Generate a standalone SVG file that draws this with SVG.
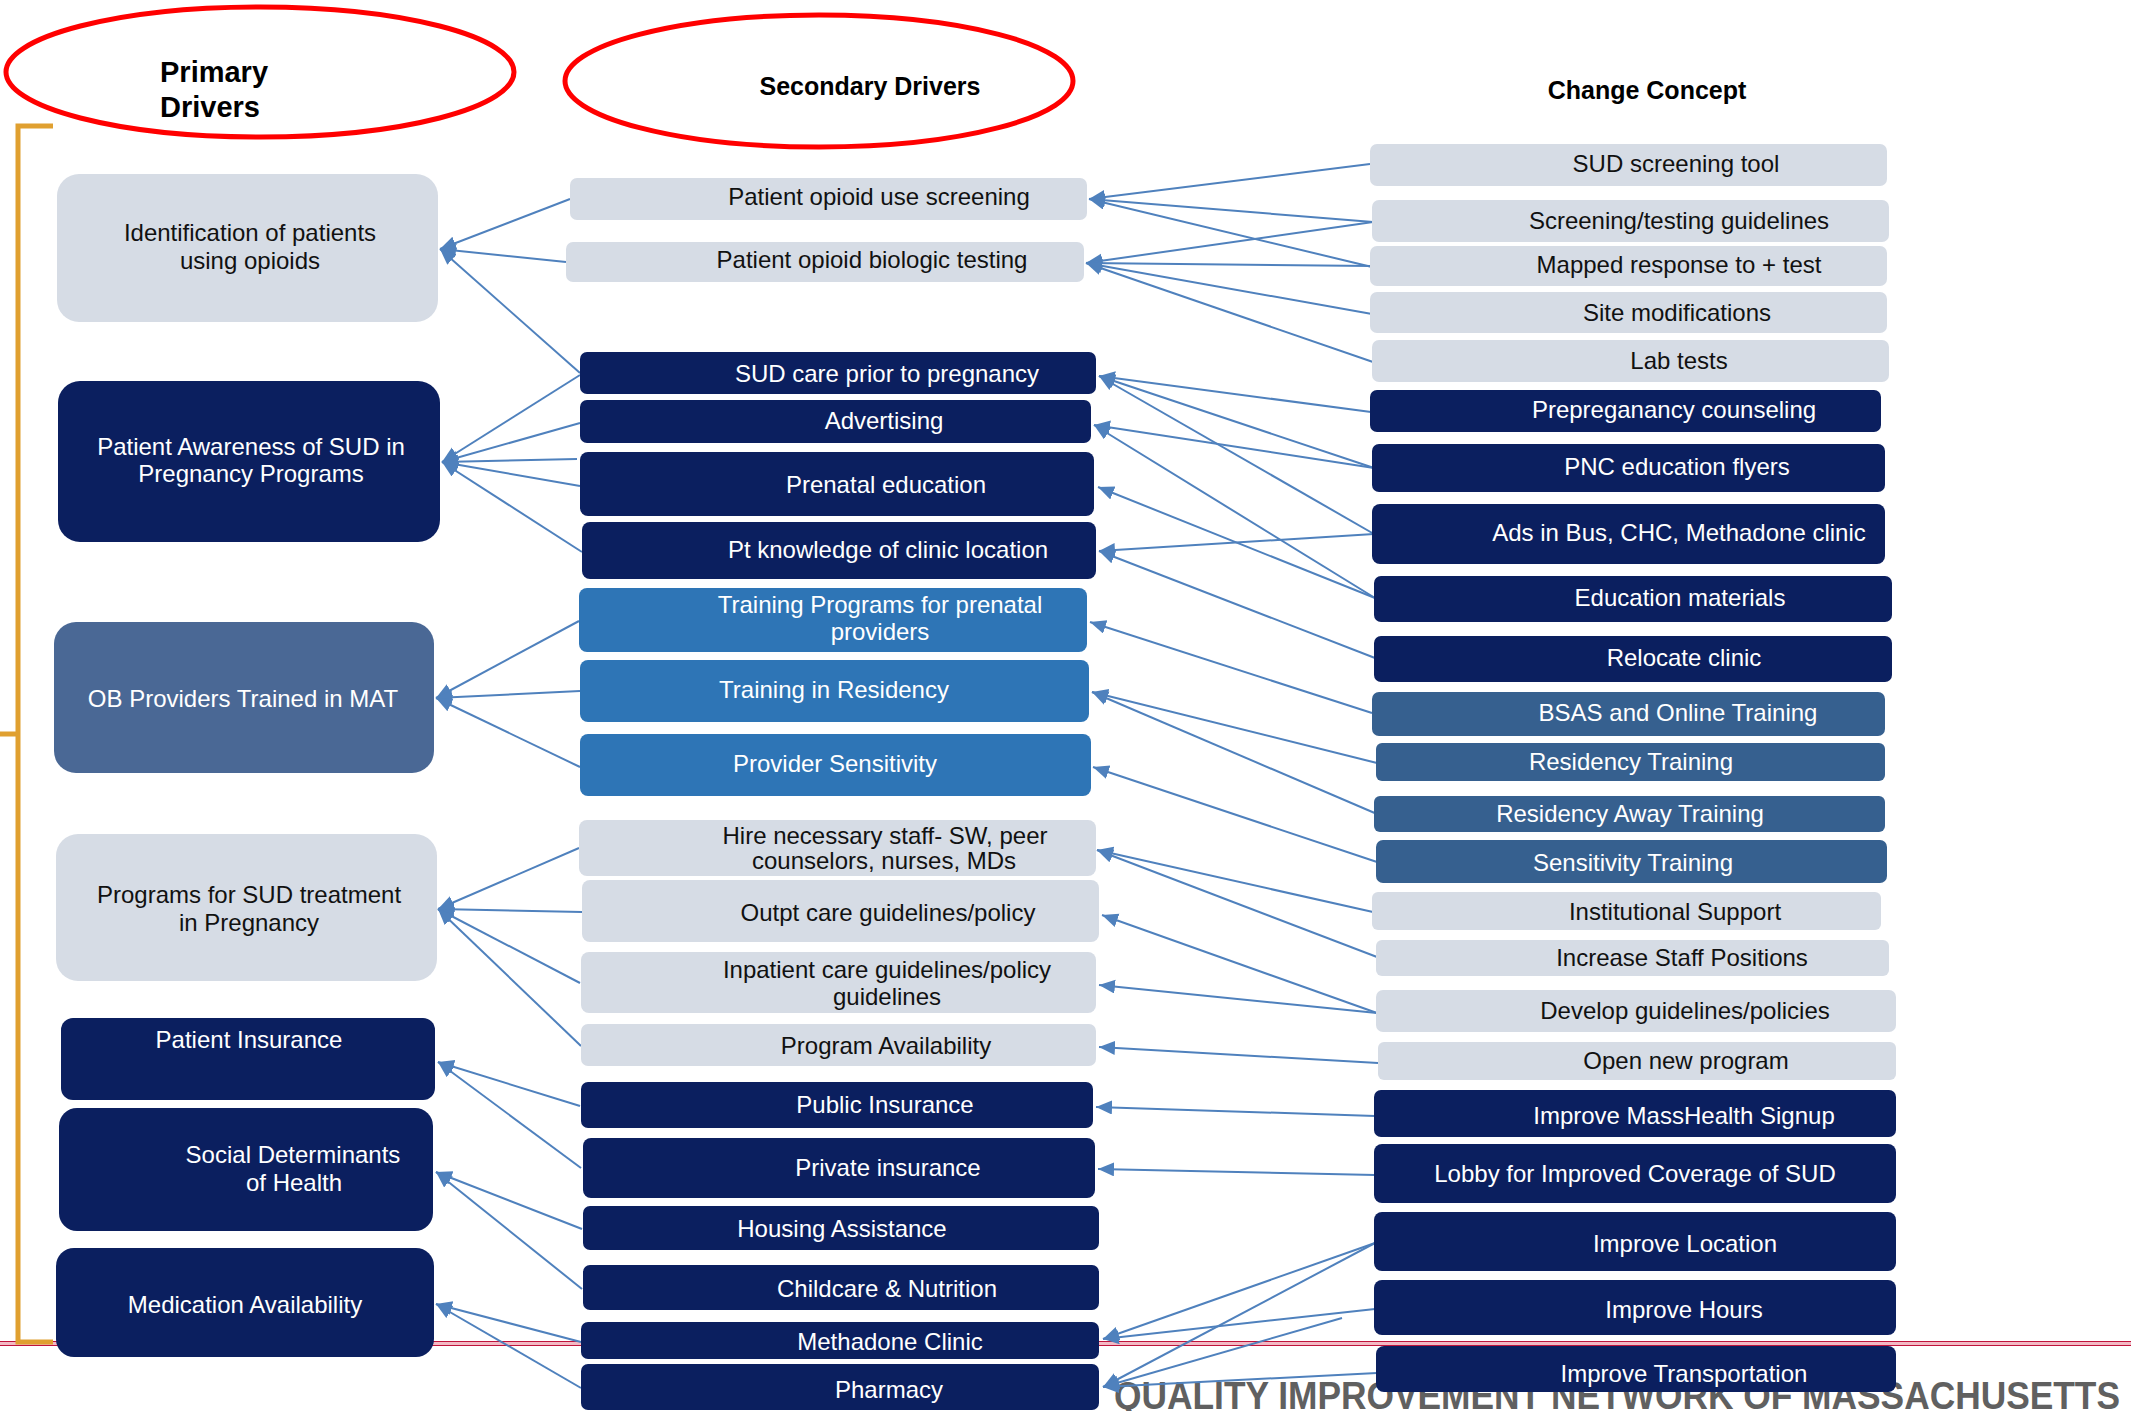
<svg xmlns="http://www.w3.org/2000/svg" width="2131" height="1411" viewBox="0 0 2131 1411">
<style>
text{font-family:"Liberation Sans",Arial,sans-serif;font-size:24px;text-anchor:middle}
.light{fill:#D6DCE5}
.dark{fill:#0B1F5F}
.ob{fill:#4A6895}
.mid{fill:#2E75B6}
.steel{fill:#36608F}
.tk{fill:#111111}
.tw{fill:#FFFFFF}
.hdr{font-weight:bold;fill:#000;font-size:25px}
.conn line{stroke:#4F81BD;stroke-width:2;marker-end:url(#arr)}
</style>
<defs>
<marker id="arr" markerUnits="userSpaceOnUse" markerWidth="18" markerHeight="16" refX="16" refY="7" orient="auto">
<path d="M0,0 L16,7 L0,14 z" fill="#4F81BD"/>
</marker>
</defs>
<rect width="2131" height="1411" fill="#FFFFFF"/>

<!-- footer band and text -->
<rect x="-2" y="1341.5" width="2135" height="4" fill="#F3B9C4" stroke="#C0143C" stroke-width="1"/>
<text x="1114" y="1409" style="text-anchor:start;font-size:38px;font-weight:bold;fill:#606060" textLength="1006" lengthAdjust="spacingAndGlyphs">QUALITY IMPROVEMENT NETWORK OF MASSACHUSETTS</text>

<!-- headers -->
<g id="hdr-primary">
<ellipse cx="260" cy="72" rx="254" ry="65" fill="none" stroke="#FF0000" stroke-width="5"/>
<text x="160" y="82" class="hdr" style="text-anchor:start;font-size:29px">Primary</text>
<text x="160" y="117" class="hdr" style="text-anchor:start;font-size:29px">Drivers</text>
</g>
<g id="hdr-secondary">
<ellipse cx="819" cy="81" rx="254" ry="66" fill="none" stroke="#FF0000" stroke-width="5"/>
<text x="870" y="95" class="hdr">Secondary Drivers</text>
</g>
<g id="hdr-change">
<text x="1647" y="99" class="hdr">Change Concept</text>
</g>

<!-- bracket -->
<path d="M53,126 H18 V1342 H53 M18,734 H0" fill="none" stroke="#E0A030" stroke-width="5"/>

<!-- connectors -->
<g id="connectors" class="conn">
<line x1="570" y1="199" x2="440" y2="249"/>
<line x1="566" y1="262" x2="440" y2="249"/>
<line x1="580" y1="373" x2="440" y2="249"/>
<line x1="580" y1="375" x2="442" y2="462"/>
<line x1="580" y1="423" x2="442" y2="462"/>
<line x1="577" y1="459" x2="442" y2="462"/>
<line x1="580" y1="486" x2="442" y2="462"/>
<line x1="582" y1="552" x2="442" y2="462"/>
<line x1="579" y1="621" x2="436" y2="698"/>
<line x1="580" y1="691" x2="436" y2="698"/>
<line x1="580" y1="767" x2="436" y2="698"/>
<line x1="579" y1="848" x2="438" y2="909"/>
<line x1="582" y1="912" x2="438" y2="909"/>
<line x1="580" y1="983" x2="438" y2="909"/>
<line x1="581" y1="1046" x2="438" y2="909"/>
<line x1="580" y1="1106" x2="438" y2="1062"/>
<line x1="581" y1="1168" x2="438" y2="1062"/>
<line x1="582" y1="1229" x2="436" y2="1172"/>
<line x1="582" y1="1289" x2="436" y2="1172"/>
<line x1="581" y1="1342" x2="436" y2="1304"/>
<line x1="581" y1="1388" x2="436" y2="1304"/>

<line x1="1370" y1="164" x2="1089" y2="199"/>
<line x1="1373" y1="222" x2="1089" y2="199"/>
<line x1="1372" y1="267" x2="1089" y2="199"/>
<line x1="1373" y1="222" x2="1086" y2="263"/>
<line x1="1372" y1="266" x2="1086" y2="263"/>
<line x1="1372" y1="314" x2="1086" y2="263"/>
<line x1="1373" y1="362" x2="1086" y2="263"/>
<line x1="1371" y1="412" x2="1099" y2="376"/>
<line x1="1374" y1="468" x2="1099" y2="376"/>
<line x1="1374" y1="534" x2="1099" y2="376"/>
<line x1="1374" y1="468" x2="1094" y2="425"/>
<line x1="1375" y1="598" x2="1094" y2="425"/>
<line x1="1375" y1="598" x2="1098" y2="487"/>
<line x1="1374" y1="534" x2="1099" y2="551"/>
<line x1="1375" y1="658" x2="1099" y2="551"/>
<line x1="1372" y1="713" x2="1090" y2="622"/>
<line x1="1377" y1="763" x2="1092" y2="692"/>
<line x1="1377" y1="814" x2="1092" y2="692"/>
<line x1="1377" y1="862" x2="1093" y2="767"/>
<line x1="1373" y1="912" x2="1097" y2="850"/>
<line x1="1377" y1="957" x2="1097" y2="850"/>
<line x1="1377" y1="1013" x2="1102" y2="915"/>
<line x1="1377" y1="1013" x2="1099" y2="985"/>
<line x1="1378" y1="1063" x2="1099" y2="1047"/>
<line x1="1375" y1="1116" x2="1096" y2="1107"/>
<line x1="1375" y1="1175" x2="1098" y2="1169"/>
<line x1="1375" y1="1243" x2="1103" y2="1339"/>
<line x1="1375" y1="1309" x2="1103" y2="1339"/>
<line x1="1375" y1="1243" x2="1103" y2="1387"/>
<line x1="1342" y1="1318" x2="1103" y2="1387"/>
<line x1="1377" y1="1373" x2="1103" y2="1387"/>
</g>

<!-- primary drivers -->
<g id="p1"><rect x="57" y="174" width="381" height="148" rx="22" class="light"/><text x="250" y="241" class="tk">Identification of patients</text><text x="250" y="269" class="tk">using opioids</text></g>
<g id="p2"><rect x="58" y="381" width="382" height="161" rx="22" class="dark"/><text x="251" y="455" class="tw">Patient Awareness of SUD in</text><text x="251" y="482" class="tw">Pregnancy Programs</text></g>
<g id="p3"><rect x="54" y="622" width="380" height="151" rx="22" class="ob"/><text x="243" y="707" class="tw">OB Providers Trained in MAT</text></g>
<g id="p4"><rect x="56" y="834" width="381" height="147" rx="22" class="light"/><text x="249" y="903" class="tk">Programs for SUD treatment</text><text x="249" y="931" class="tk">in Pregnancy</text></g>
<g id="p5"><rect x="61" y="1018" width="374" height="82" rx="12" class="dark"/><text x="249" y="1048" class="tw">Patient Insurance</text></g>
<g id="p6"><rect x="59" y="1108" width="374" height="123" rx="18" class="dark"/><text x="293" y="1163" class="tw">Social Determinants</text><text x="294" y="1191" class="tw">of Health</text></g>
<g id="p7"><rect x="56" y="1248" width="378" height="109" rx="18" class="dark"/><text x="245" y="1313" class="tw">Medication Availability</text></g>

<!-- secondary drivers -->
<g id="s1"><rect x="570" y="178" width="517" height="42" rx="7" class="light"/><text x="879" y="205" class="tk">Patient opioid use screening</text></g>
<g id="s2"><rect x="566" y="242" width="518" height="40" rx="7" class="light"/><text x="872" y="268" class="tk">Patient opioid biologic testing</text></g>
<g id="s3"><rect x="580" y="352" width="516" height="42" rx="7" class="dark"/><text x="887" y="382" class="tw">SUD care prior to pregnancy</text></g>
<g id="s4"><rect x="580" y="400" width="511" height="43" rx="7" class="dark"/><text x="884" y="429" class="tw">Advertising</text></g>
<g id="s5"><rect x="580" y="452" width="514" height="64" rx="8" class="dark"/><text x="886" y="493" class="tw">Prenatal education</text></g>
<g id="s6"><rect x="582" y="522" width="514" height="57" rx="8" class="dark"/><text x="888" y="558" class="tw">Pt knowledge of clinic location</text></g>
<g id="s7"><rect x="579" y="588" width="508" height="64" rx="8" class="mid"/><text x="880" y="613" class="tw">Training Programs for prenatal</text><text x="880" y="640" class="tw">providers</text></g>
<g id="s8"><rect x="580" y="660" width="509" height="62" rx="8" class="mid"/><text x="834" y="698" class="tw">Training in Residency</text></g>
<g id="s9"><rect x="580" y="734" width="511" height="62" rx="8" class="mid"/><text x="835" y="772" class="tw">Provider Sensitivity</text></g>
<g id="s10"><rect x="579" y="820" width="517" height="56" rx="8" class="light"/><text x="885" y="844" class="tk">Hire necessary staff- SW, peer</text><text x="884" y="869" class="tk">counselors, nurses, MDs</text></g>
<g id="s11"><rect x="582" y="880" width="517" height="62" rx="8" class="light"/><text x="888" y="921" class="tk">Outpt care guidelines/policy</text></g>
<g id="s12"><rect x="581" y="952" width="515" height="61" rx="8" class="light"/><text x="887" y="978" class="tk">Inpatient care guidelines/policy</text><text x="887" y="1005" class="tk">guidelines</text></g>
<g id="s13"><rect x="581" y="1024" width="515" height="42" rx="7" class="light"/><text x="886" y="1054" class="tk">Program Availability</text></g>
<g id="s14"><rect x="581" y="1082" width="512" height="46" rx="7" class="dark"/><text x="885" y="1113" class="tw">Public Insurance</text></g>
<g id="s15"><rect x="583" y="1138" width="512" height="60" rx="8" class="dark"/><text x="888" y="1176" class="tw">Private insurance</text></g>
<g id="s16"><rect x="583" y="1206" width="516" height="44" rx="7" class="dark"/><text x="842" y="1237" class="tw">Housing Assistance</text></g>
<g id="s17"><rect x="583" y="1265" width="516" height="45" rx="7" class="dark"/><text x="887" y="1297" class="tw">Childcare &amp; Nutrition</text></g>
<g id="s18"><rect x="581" y="1322" width="518" height="37" rx="7" class="dark"/><text x="890" y="1350" class="tw">Methadone Clinic</text></g>
<g id="s19"><rect x="581" y="1364" width="518" height="46" rx="7" class="dark"/><text x="889" y="1398" class="tw">Pharmacy</text></g>

<!-- change concepts -->
<g id="c1"><rect x="1370" y="144" width="517" height="42" rx="7" class="light"/><text x="1676" y="172" class="tk">SUD screening tool</text></g>
<g id="c2"><rect x="1372" y="200" width="517" height="42" rx="7" class="light"/><text x="1679" y="229" class="tk">Screening/testing guidelines</text></g>
<g id="c3"><rect x="1370" y="246" width="517" height="40" rx="7" class="light"/><text x="1679" y="273" class="tk">Mapped response to + test</text></g>
<g id="c4"><rect x="1370" y="292" width="517" height="41" rx="7" class="light"/><text x="1677" y="321" class="tk">Site modifications</text></g>
<g id="c5"><rect x="1372" y="340" width="517" height="42" rx="7" class="light"/><text x="1679" y="369" class="tk">Lab tests</text></g>
<g id="c6"><rect x="1370" y="390" width="511" height="42" rx="7" class="dark"/><text x="1674" y="418" class="tw">Prepreganancy counseling</text></g>
<g id="c7"><rect x="1372" y="444" width="513" height="48" rx="7" class="dark"/><text x="1677" y="475" class="tw">PNC education flyers</text></g>
<g id="c8"><rect x="1372" y="504" width="513" height="60" rx="8" class="dark"/><text x="1679" y="541" class="tw">Ads in Bus, CHC, Methadone clinic</text></g>
<g id="c9"><rect x="1374" y="576" width="518" height="46" rx="7" class="dark"/><text x="1680" y="606" class="tw">Education materials</text></g>
<g id="c10"><rect x="1374" y="636" width="518" height="46" rx="7" class="dark"/><text x="1684" y="666" class="tw">Relocate clinic</text></g>
<g id="c11"><rect x="1372" y="692" width="513" height="44" rx="7" class="steel"/><text x="1678" y="721" class="tw">BSAS and Online Training</text></g>
<g id="c12"><rect x="1376" y="743" width="509" height="38" rx="6" class="steel"/><text x="1631" y="770" class="tw">Residency Training</text></g>
<g id="c13"><rect x="1374" y="796" width="511" height="36" rx="6" class="steel"/><text x="1630" y="822" class="tw">Residency Away Training</text></g>
<g id="c14"><rect x="1376" y="840" width="511" height="43" rx="7" class="steel"/><text x="1633" y="871" class="tw">Sensitivity Training</text></g>
<g id="c15"><rect x="1372" y="892" width="509" height="38" rx="6" class="light"/><text x="1675" y="920" class="tk">Institutional Support</text></g>
<g id="c16"><rect x="1376" y="940" width="513" height="36" rx="6" class="light"/><text x="1682" y="966" class="tk">Increase Staff Positions</text></g>
<g id="c17"><rect x="1376" y="990" width="520" height="42" rx="7" class="light"/><text x="1685" y="1019" class="tk">Develop guidelines/policies</text></g>
<g id="c18"><rect x="1378" y="1042" width="518" height="38" rx="6" class="light"/><text x="1686" y="1069" class="tk">Open new program</text></g>
<g id="c19"><rect x="1374" y="1090" width="522" height="47" rx="7" class="dark"/><text x="1684" y="1124" class="tw">Improve MassHealth Signup</text></g>
<g id="c20"><rect x="1374" y="1144" width="522" height="59" rx="8" class="dark"/><text x="1635" y="1182" class="tw">Lobby for Improved Coverage of SUD</text></g>
<g id="c21"><rect x="1374" y="1212" width="522" height="59" rx="8" class="dark"/><text x="1685" y="1252" class="tw">Improve Location</text></g>
<g id="c22"><rect x="1374" y="1280" width="522" height="55" rx="8" class="dark"/><text x="1684" y="1318" class="tw">Improve Hours</text></g>
<g id="c23"><rect x="1376" y="1346" width="520" height="46" rx="8" class="dark"/><text x="1684" y="1382" class="tw">Improve Transportation</text></g>
</svg>
